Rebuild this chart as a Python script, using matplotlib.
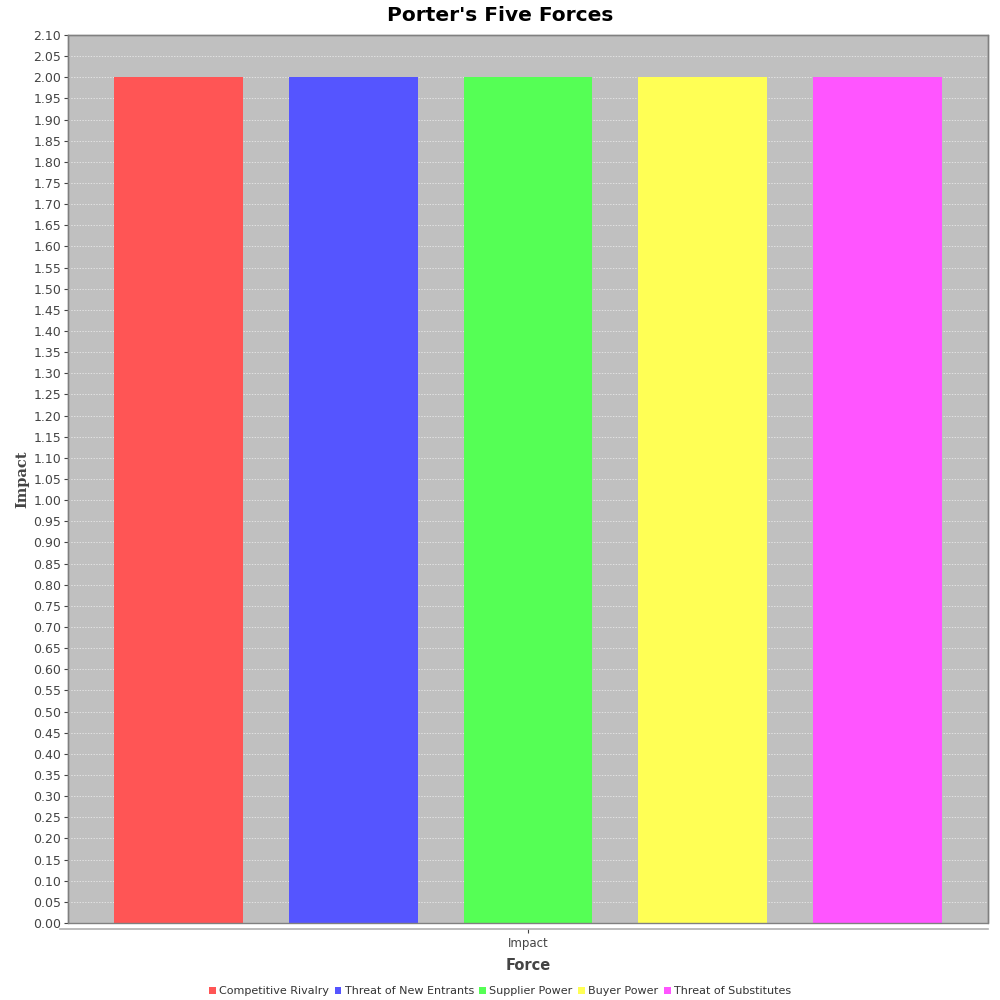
import matplotlib.pyplot as plt
from matplotlib.patches import Rectangle
import numpy as np

fuerzas = ['Competitive Rivalry', 'Threat of New Entrants', 'Supplier Power',
           'Buyer Power', 'Threat of Substitutes']
impacto = [2.0, 2.0, 2.0, 2.0, 2.0]
colores = ['#FF5555', '#5555FF', '#55FF55', '#FFFF55', '#FF55FF']
categoria = 'Impact'

plt.rcParams['font.family'] = ['DejaVu Sans']

fig = plt.figure(figsize=(10, 10), dpi=100)
ax = fig.add_axes([0.068, 0.077, 0.920, 0.888])
ax.set_facecolor('#C0C0C0')

pos = np.arange(len(fuerzas))
ax.bar(pos, impacto, width=0.738, color=colores, label=fuerzas, zorder=3)

ax.set_xlim(-0.632, len(fuerzas) - 1 + 0.632)
ax.set_ylim(0, 2.10)
ax.set_yticks(np.arange(0, 2.101, 0.05))
ax.set_yticklabels(['%.2f' % v for v in np.arange(0, 2.101, 0.05)])
ax.yaxis.grid(True, color='#F0F0F0', linestyle=(0, (2, 2)), linewidth=0.5, zorder=1)
ax.set_axisbelow(True)

ax.set_xticks([(len(fuerzas) - 1) / 2])
ax.set_xticklabels([categoria])

ax.tick_params(axis='y', labelsize=9, colors='#444444', length=3, width=0.8, pad=2)
ax.tick_params(axis='x', labelsize=8.5, colors='#444444', length=3, width=0.8, pad=3)
for lab in ax.get_yticklabels() + ax.get_xticklabels():
    lab.set_color('#444444')

for s in ['top', 'right', 'left']:
    ax.spines[s].set_color('#808080')
    ax.spines[s].set_linewidth(1.0)
ax.spines['bottom'].set_position(('outward', 4))
ax.spines['bottom'].set_color('#B0B0B0')
ax.spines['bottom'].set_linewidth(1.2)
ax.spines['bottom'].set_bounds(-0.68, len(fuerzas) - 1 + 0.632)
ax.add_patch(Rectangle((0, 0), 1, 1, transform=ax.transAxes, fill=False,
                       edgecolor='#808080', linewidth=1.0, zorder=5, clip_on=False))

ax.set_xlabel('Force', fontsize=10.5, fontweight='bold', color='#444444', labelpad=6)
ax.set_ylabel('Impact', fontsize=10.5, fontweight='bold', color='#444444',
              family='DejaVu Serif', labelpad=3)
fig.suptitle("Porter's Five Forces", fontsize=14.5, fontweight='bold', y=0.994)

handles, labels = ax.get_legend_handles_labels()
fig.legend(handles, labels, loc='lower center', bbox_to_anchor=(0.5, -0.006), ncol=5,
           frameon=False, fontsize=8, handlelength=0.6, handleheight=0.6,
           handletextpad=0.3, columnspacing=0.5, labelcolor='#333333')

fig.savefig('out.png', dpi=100)
